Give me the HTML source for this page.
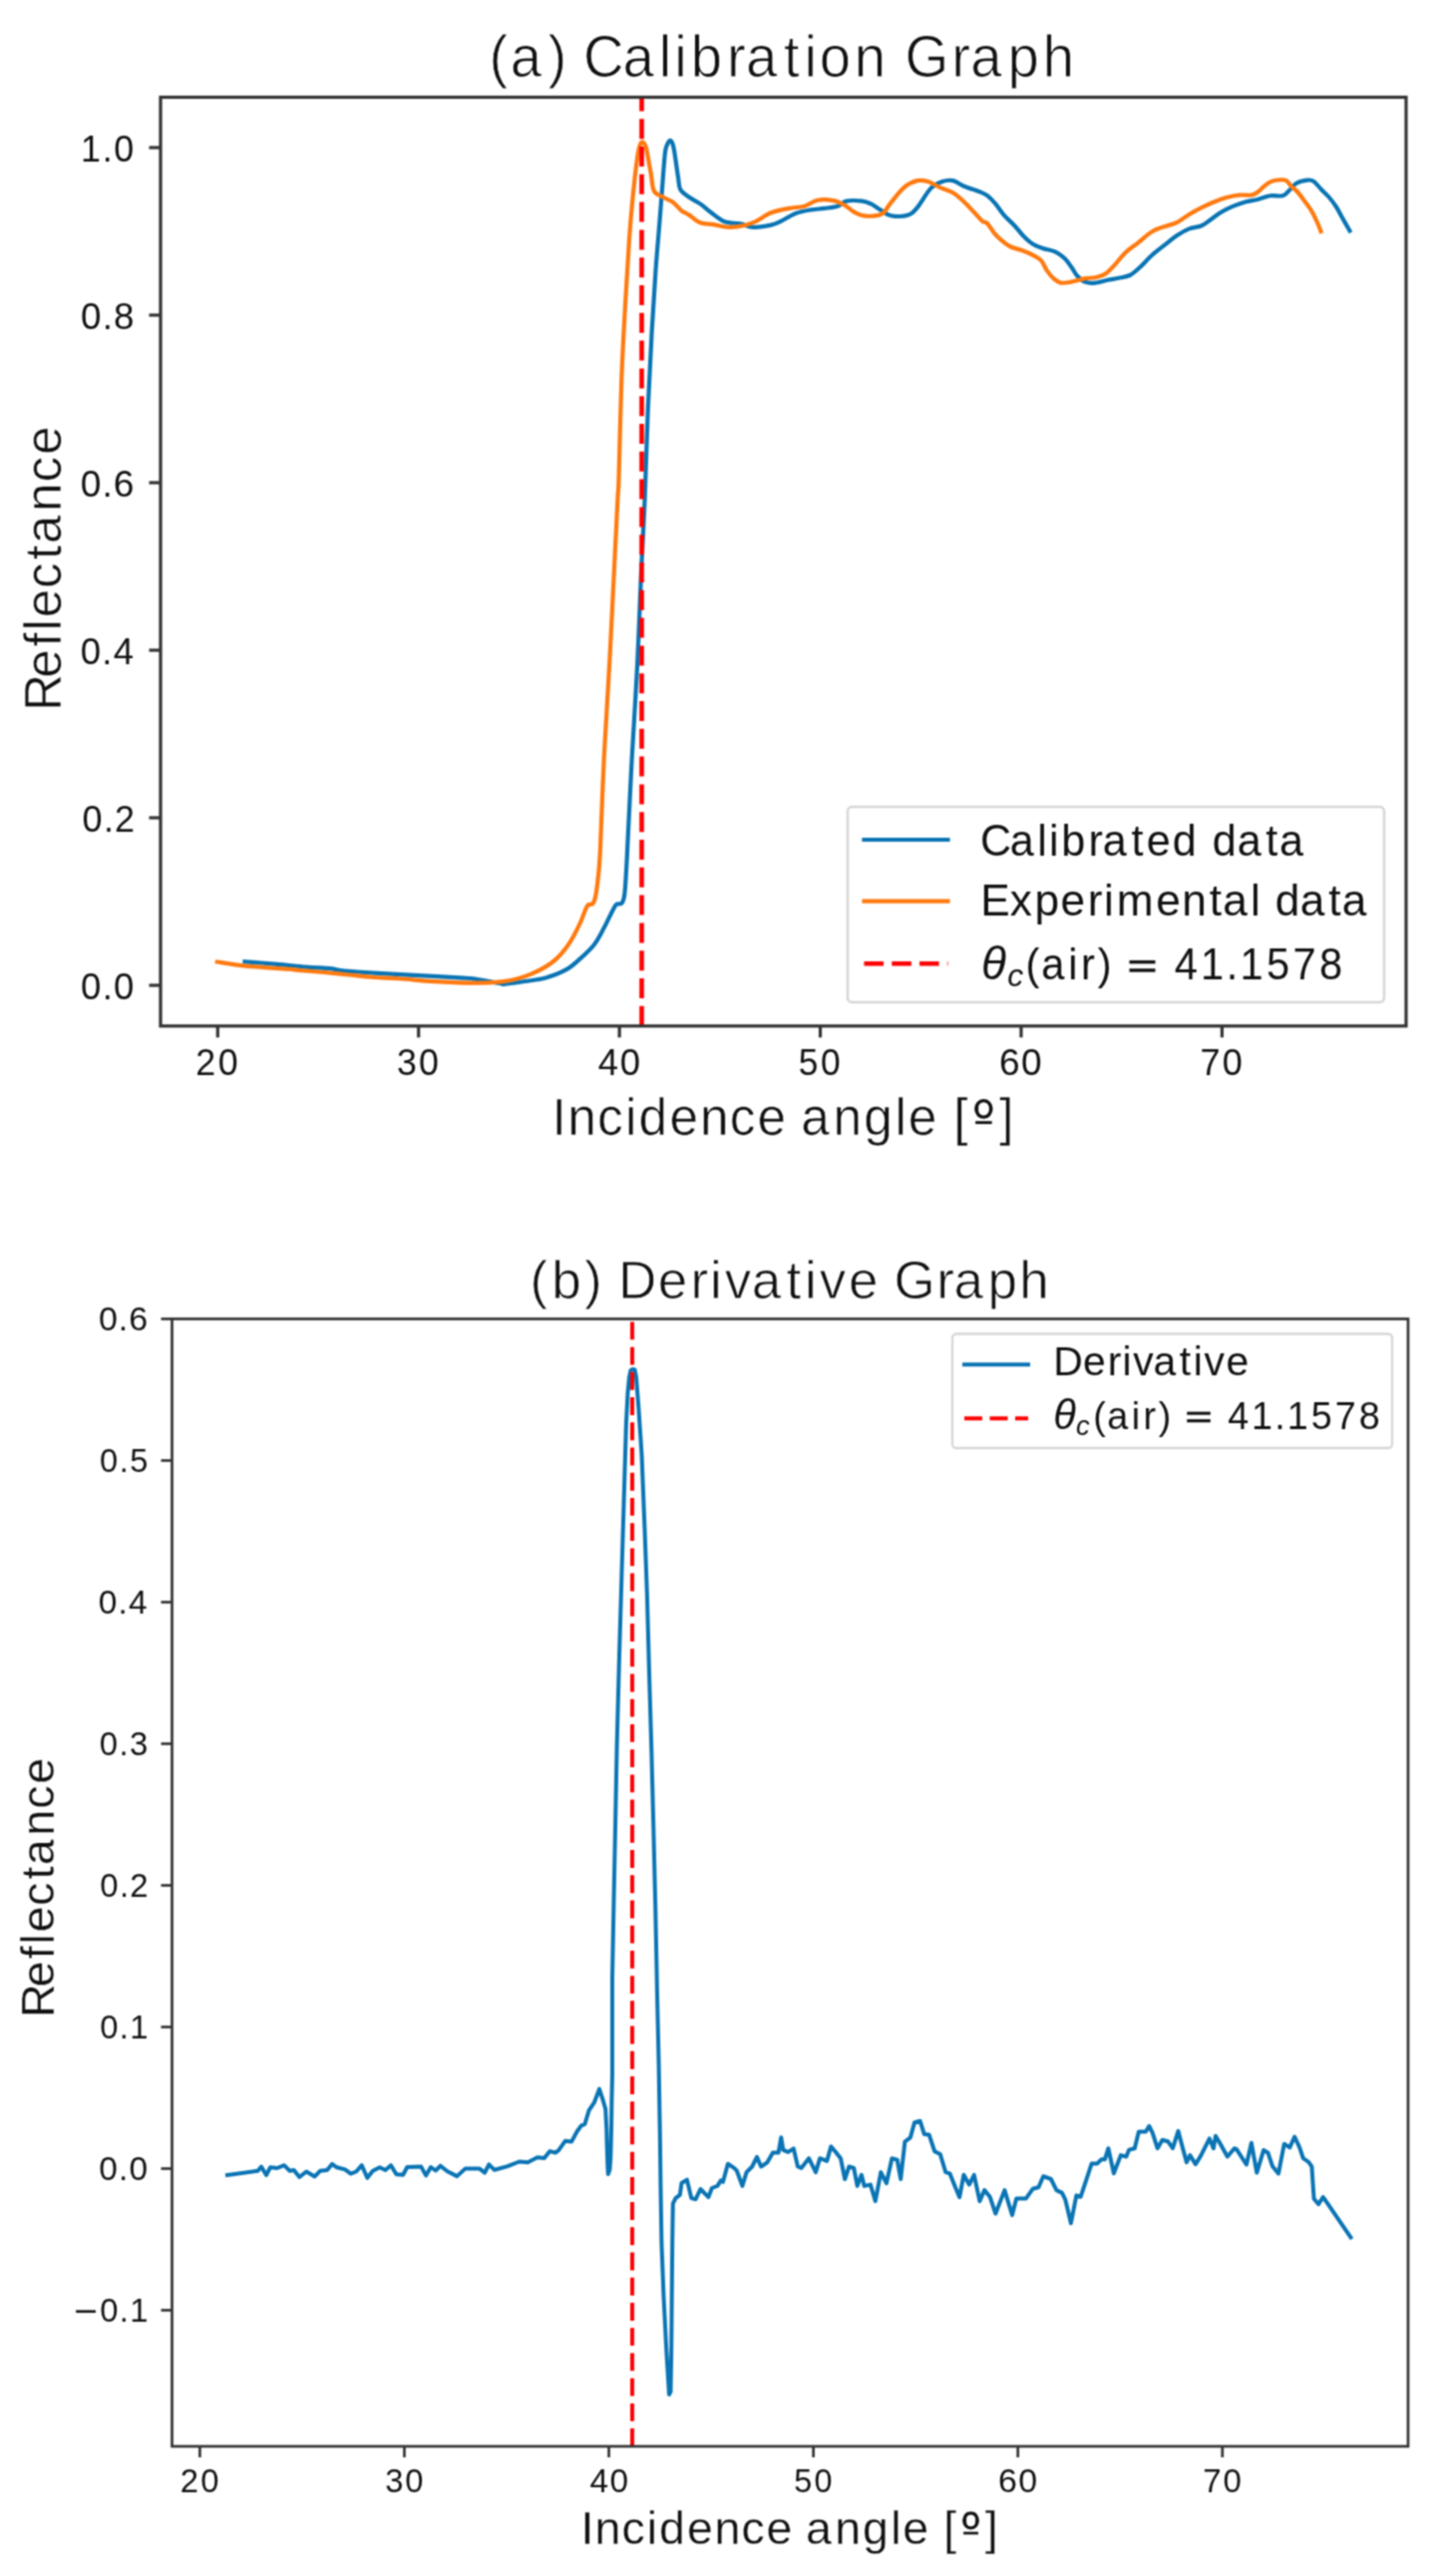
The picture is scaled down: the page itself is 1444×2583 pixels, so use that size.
<!DOCTYPE html><html><head><meta charset="utf-8"><title>Calibration and Derivative Graphs</title><style>html,body{margin:0;padding:0;background:#fff;overflow:hidden;}svg{display:block;}text{font-family:"Liberation Sans", sans-serif;fill:#111111;font-kerning:none;font-variant-ligatures:none;white-space:pre;}</style></head><body>
<svg width="1444" height="2583" viewBox="0 0 1444 2583">
<rect width="1444" height="2583" fill="#fff"/>
<defs><filter id="bl" filterUnits="userSpaceOnUse" x="0" y="0" width="1444" height="2583" color-interpolation-filters="sRGB"><feConvolveMatrix order="3" kernelMatrix="1 2 1 2 4 2 1 2 1" edgeMode="duplicate"/></filter></defs>
<g filter="url(#bl)">
<rect width="1444" height="2583" fill="#fff"/>
<clipPath id="ca"><rect x="161.0" y="97.5" width="1249.0" height="931.3"/></clipPath>
<g clip-path="url(#ca)">
<path d="M245.50,964.30C250.92,964.72 267.72,965.92 278.00,966.80C288.28,967.68 298.28,968.87 307.20,969.60C316.12,970.33 325.75,970.60 331.50,971.20C337.25,971.80 337.23,972.65 341.70,973.20C346.17,973.75 351.37,974.00 358.30,974.50C365.23,975.00 373.02,975.58 383.30,976.20C393.58,976.82 406.38,977.47 420.00,978.20C433.62,978.93 455.42,979.98 465.00,980.60C474.58,981.22 471.25,980.96 477.50,981.90C483.75,982.84 497.82,985.43 502.50,986.25C507.18,987.07 501.62,987.17 505.60,986.80C509.58,986.42 519.47,985.05 526.40,984.00C533.33,982.95 540.27,982.47 547.20,980.50C554.13,978.53 562.20,975.43 568.00,972.20C573.80,968.97 577.37,965.27 582.00,961.10C586.63,956.93 591.87,952.28 595.80,947.20C599.73,942.12 602.82,935.68 605.60,930.60C608.38,925.52 610.43,920.63 612.50,916.70C614.57,912.77 616.15,908.85 618.00,907.00C619.85,905.15 622.20,907.47 623.60,905.60C625.00,903.73 625.58,902.75 626.40,895.80C627.22,888.85 627.93,873.70 628.50,863.90C629.07,854.10 628.93,854.40 629.80,837.00C630.67,819.60 632.15,787.95 633.70,759.50C635.25,731.05 637.55,697.38 639.10,666.30C640.65,635.22 641.75,600.72 643.00,573.00C644.25,545.28 645.48,527.07 646.60,500.00C647.72,472.93 648.53,438.45 649.70,410.60C650.87,382.75 652.30,356.20 653.60,332.90C654.90,309.60 656.22,288.92 657.50,270.80C658.78,252.68 660.27,237.13 661.30,224.20C662.33,211.27 662.78,204.85 663.70,193.20C664.62,181.55 665.90,162.33 666.80,154.30C667.70,146.27 668.28,147.22 669.10,145.00C669.92,142.78 670.85,141.25 671.70,141.00C672.55,140.75 673.47,141.80 674.20,143.50C674.93,145.20 675.13,145.52 676.10,151.20C677.07,156.88 678.97,171.13 680.00,177.60C681.03,184.07 680.45,186.63 682.30,190.00C684.15,193.37 687.78,195.40 691.10,197.80C694.42,200.20 698.50,201.82 702.20,204.40C705.90,206.98 709.22,210.33 713.30,213.30C717.38,216.27 721.88,220.35 726.70,222.20C731.52,224.05 737.38,223.47 742.20,224.40C747.02,225.33 750.42,227.60 755.60,227.80C760.78,228.00 768.50,226.72 773.30,225.60C778.10,224.48 780.32,223.03 784.40,221.10C788.48,219.17 792.98,215.78 797.80,214.00C802.62,212.22 808.48,211.25 813.30,210.40C818.12,209.55 822.25,209.52 826.70,208.90C831.15,208.28 836.30,207.92 840.00,206.70C843.70,205.48 844.83,202.45 848.90,201.60C852.97,200.75 860.33,201.13 864.40,201.60C868.47,202.07 870.33,203.00 873.30,204.40C876.27,205.80 878.87,208.03 882.20,210.00C885.53,211.97 888.48,215.27 893.30,216.20C898.12,217.13 906.65,217.00 911.10,215.60C915.55,214.20 916.30,212.25 920.00,207.80C923.70,203.35 929.23,193.17 933.30,188.90C937.37,184.63 940.68,183.50 944.40,182.20C948.12,180.90 951.88,180.35 955.60,181.10C959.32,181.85 962.27,184.85 966.70,186.70C971.13,188.55 978.32,190.63 982.20,192.20C986.08,193.77 987.32,194.07 990.00,196.10C992.68,198.13 995.52,201.15 998.30,204.40C1001.08,207.65 1003.45,211.88 1006.70,215.60C1009.95,219.32 1014.57,223.23 1017.80,226.70C1021.03,230.17 1023.10,233.40 1026.10,236.40C1029.10,239.40 1032.55,242.62 1035.80,244.70C1039.05,246.78 1041.90,247.62 1045.60,248.90C1049.30,250.18 1054.30,250.67 1058.00,252.40C1061.70,254.13 1065.02,256.65 1067.80,259.30C1070.58,261.95 1072.62,265.40 1074.70,268.30C1076.78,271.20 1077.98,274.27 1080.30,276.70C1082.62,279.13 1085.60,281.75 1088.60,282.90C1091.60,284.05 1094.60,283.95 1098.30,283.60C1102.00,283.25 1106.87,281.60 1110.80,280.80C1114.73,280.00 1118.20,279.60 1121.90,278.80C1125.60,278.00 1129.52,277.75 1133.00,276.00C1136.48,274.25 1139.08,271.67 1142.80,268.30C1146.52,264.93 1150.90,259.73 1155.30,255.80C1159.70,251.87 1165.08,247.96 1169.20,244.70C1173.32,241.44 1176.12,238.80 1180.00,236.25C1183.88,233.70 1188.33,231.07 1192.50,229.40C1196.67,227.73 1201.25,227.92 1205.00,226.25C1208.75,224.58 1211.67,221.69 1215.00,219.40C1218.33,217.11 1221.46,214.58 1225.00,212.50C1228.54,210.42 1232.29,208.57 1236.25,206.90C1240.21,205.23 1244.58,203.65 1248.75,202.50C1252.92,201.35 1257.08,201.04 1261.25,200.00C1265.42,198.96 1269.58,196.88 1273.75,196.25C1277.92,195.62 1283.12,197.08 1286.25,196.25C1289.38,195.42 1290.21,193.33 1292.50,191.25C1294.79,189.17 1296.88,185.53 1300.00,183.75C1303.12,181.97 1308.33,180.91 1311.25,180.60C1314.17,180.29 1315.21,180.33 1317.50,181.90C1319.79,183.47 1322.50,187.40 1325.00,190.00C1327.50,192.60 1330.00,194.58 1332.50,197.50C1335.00,200.42 1337.71,203.96 1340.00,207.50C1342.29,211.04 1344.00,214.75 1346.25,218.75C1348.50,222.75 1352.29,229.38 1353.50,231.50" fill="none" stroke="#0a74b4" stroke-width="4.20" stroke-linejoin="round" stroke-linecap="square"/>
<path d="M217.80,964.50C222.98,965.22 237.23,967.60 248.90,968.80C260.57,970.00 279.28,971.02 287.80,971.70C296.32,972.38 293.80,972.35 300.00,972.90C306.20,973.45 316.67,974.23 325.00,975.00C333.33,975.77 341.67,976.67 350.00,977.50C358.33,978.33 366.67,979.38 375.00,980.00C383.33,980.62 389.17,980.52 400.00,981.25C410.83,981.98 427.08,983.67 440.00,984.40C452.92,985.12 467.03,985.60 477.50,985.60C487.97,985.60 495.82,985.12 502.80,984.40C509.78,983.68 514.32,982.63 519.40,981.30C524.48,979.97 528.67,978.38 533.30,976.40C537.93,974.42 543.03,971.95 547.20,969.40C551.37,966.85 554.83,964.33 558.30,961.10C561.77,957.87 565.22,953.70 568.00,950.00C570.78,946.30 572.67,943.07 575.00,938.90C577.33,934.73 579.92,929.63 582.00,925.00C584.08,920.37 586.12,914.10 587.50,911.10C588.88,908.10 589.15,907.81 590.30,907.00C591.45,906.19 593.25,907.65 594.40,906.25C595.55,904.85 596.27,903.34 597.20,898.60C598.13,893.86 599.20,885.90 600.00,877.80C600.80,869.70 601.05,869.72 602.00,850.00C602.95,830.28 604.18,790.12 605.70,759.50C607.22,728.88 609.42,697.38 611.10,666.30C612.78,635.22 614.42,600.72 615.80,573.00C617.18,545.28 618.62,515.50 619.40,500.00C620.18,484.50 619.85,500.08 620.50,480.00C621.15,459.92 622.18,409.18 623.30,379.50C624.42,349.82 625.92,325.18 627.20,301.90C628.48,278.62 629.70,257.92 631.00,239.80C632.30,221.68 633.70,206.50 635.00,193.20C636.30,179.90 637.80,167.53 638.80,160.00C639.80,152.47 640.22,150.92 641.00,148.00C641.78,145.08 642.67,143.17 643.50,142.50C644.33,141.83 645.23,142.92 646.00,144.00C646.77,145.08 646.97,143.92 648.10,149.00C649.23,154.08 651.50,167.40 652.80,174.50C654.10,181.60 653.83,187.72 655.90,191.60C657.97,195.48 662.10,195.98 665.20,197.80C668.30,199.62 672.03,200.83 674.50,202.50C676.97,204.17 678.43,206.25 680.00,207.80C681.57,209.35 682.05,210.50 683.90,211.80C685.75,213.10 688.05,213.68 691.10,215.60C694.15,217.52 698.12,221.72 702.20,223.30C706.28,224.88 710.78,224.35 715.60,225.10C720.42,225.85 725.92,227.65 731.10,227.80C736.28,227.95 742.25,226.93 746.70,226.00C751.15,225.07 753.37,224.32 757.80,222.20C762.23,220.08 767.75,215.52 773.30,213.30C778.85,211.08 785.53,210.00 791.10,208.90C796.67,207.80 801.88,208.07 806.70,206.70C811.52,205.33 815.18,201.63 820.00,200.70C824.82,199.77 831.15,200.28 835.60,201.10C840.05,201.92 843.00,203.57 846.70,205.60C850.40,207.63 854.10,211.45 857.80,213.30C861.50,215.15 864.47,216.52 868.90,216.70C873.33,216.88 880.33,216.63 884.40,214.40C888.47,212.17 889.58,207.73 893.30,203.30C897.02,198.87 902.25,191.50 906.70,187.80C911.15,184.10 915.93,182.03 920.00,181.10C924.07,180.17 927.40,181.08 931.10,182.20C934.80,183.32 938.12,185.95 942.20,187.80C946.28,189.65 951.15,190.53 955.60,193.30C960.05,196.07 964.10,199.77 968.90,204.40C973.70,209.03 980.88,217.85 984.40,221.10C987.92,224.35 987.92,221.82 990.00,223.90C992.08,225.98 994.58,230.82 996.90,233.60C999.22,236.38 1001.12,238.28 1003.90,240.60C1006.68,242.92 1010.13,245.77 1013.60,247.50C1017.07,249.23 1021.00,249.62 1024.70,251.00C1028.40,252.38 1032.55,254.07 1035.80,255.80C1039.05,257.53 1041.88,258.85 1044.20,261.40C1046.52,263.95 1047.62,268.10 1049.70,271.10C1051.78,274.10 1054.38,277.32 1056.70,279.40C1059.02,281.48 1060.83,283.02 1063.60,283.60C1066.37,284.18 1069.37,283.60 1073.30,282.90C1077.23,282.20 1082.80,280.22 1087.20,279.40C1091.60,278.58 1096.00,278.92 1099.70,278.00C1103.40,277.08 1106.38,275.97 1109.40,273.90C1112.42,271.83 1114.55,269.08 1117.80,265.60C1121.05,262.12 1124.97,256.72 1128.90,253.00C1132.83,249.28 1137.00,246.77 1141.40,243.30C1145.80,239.83 1150.67,234.97 1155.30,232.20C1159.93,229.43 1165.08,228.20 1169.20,226.70C1173.32,225.20 1176.12,225.15 1180.00,223.20C1183.88,221.25 1188.33,217.52 1192.50,215.00C1196.67,212.48 1200.83,210.18 1205.00,208.10C1209.17,206.02 1213.33,204.17 1217.50,202.50C1221.67,200.83 1225.83,199.25 1230.00,198.10C1234.17,196.95 1238.33,196.02 1242.50,195.60C1246.67,195.18 1251.88,196.12 1255.00,195.60C1258.12,195.08 1259.17,193.95 1261.25,192.50C1263.33,191.05 1265.21,188.67 1267.50,186.90C1269.79,185.13 1272.08,183.01 1275.00,181.90C1277.92,180.79 1282.50,180.36 1285.00,180.25C1287.50,180.14 1288.33,180.14 1290.00,181.25C1291.67,182.36 1293.12,185.03 1295.00,186.90C1296.88,188.78 1298.96,189.90 1301.25,192.50C1303.54,195.10 1306.46,199.38 1308.75,202.50C1311.04,205.62 1312.92,207.71 1315.00,211.25C1317.08,214.79 1319.67,220.29 1321.25,223.75C1322.83,227.21 1323.96,230.62 1324.50,232.00" fill="none" stroke="#ff7a10" stroke-width="4.20" stroke-linejoin="round" stroke-linecap="square"/>
<line x1="643.50" y1="1028.80" x2="643.50" y2="97.50" stroke="#ff0000" stroke-width="4.60" stroke-dasharray="20,7.8"/>
</g>
<line x1="149.50" y1="988.00" x2="161.00" y2="988.00" stroke="#333333" stroke-width="3.20"/>
<line x1="149.50" y1="820.00" x2="161.00" y2="820.00" stroke="#333333" stroke-width="3.20"/>
<line x1="149.50" y1="652.00" x2="161.00" y2="652.00" stroke="#333333" stroke-width="3.20"/>
<line x1="149.50" y1="484.00" x2="161.00" y2="484.00" stroke="#333333" stroke-width="3.20"/>
<line x1="149.50" y1="316.00" x2="161.00" y2="316.00" stroke="#333333" stroke-width="3.20"/>
<line x1="149.50" y1="148.00" x2="161.00" y2="148.00" stroke="#333333" stroke-width="3.20"/>
<line x1="218.30" y1="1028.80" x2="218.30" y2="1040.30" stroke="#333333" stroke-width="3.20"/>
<line x1="419.72" y1="1028.80" x2="419.72" y2="1040.30" stroke="#333333" stroke-width="3.20"/>
<line x1="621.14" y1="1028.80" x2="621.14" y2="1040.30" stroke="#333333" stroke-width="3.20"/>
<line x1="822.56" y1="1028.80" x2="822.56" y2="1040.30" stroke="#333333" stroke-width="3.20"/>
<line x1="1023.98" y1="1028.80" x2="1023.98" y2="1040.30" stroke="#333333" stroke-width="3.20"/>
<line x1="1225.40" y1="1028.80" x2="1225.40" y2="1040.30" stroke="#333333" stroke-width="3.20"/>
<rect x="161.00" y="97.50" width="1249.00" height="931.30" fill="none" stroke="#333333" stroke-width="3.20"/>
<text x="80.59 102.04 113.4" y="1001.71" font-size="36.33" transform="scale(1.0063,1)">0.0</text>
<text x="83.23 104.95 116.11" y="833.71" font-size="36.33" transform="scale(0.9903,1)">0.2</text>
<text x="80.24 101.69 113.04" y="665.71" font-size="36.33" transform="scale(1.0063,1)">0.4</text>
<text x="79.08 100.28 111.38" y="497.71" font-size="36.33" transform="scale(1.0220,1)">0.6</text>
<text x="80.22 101.59 112.86" y="329.71" font-size="36.33" transform="scale(1.0113,1)">0.8</text>
<text x="82.18 104.13 115.8" y="161.71" font-size="36.33" transform="scale(0.9871,1)">1.0</text>
<text x="198.98 221.77" y="1078.4" font-size="36.33" transform="scale(0.9863,1)">20</text>
<text x="404.56 426.88" y="1078.4" font-size="36.33" transform="scale(0.9841,1)">30</text>
<text x="597.39 619.32" y="1078.4" font-size="36.33" transform="scale(1.0040,1)">40</text>
<text x="820.71 843.4" y="1078.4" font-size="36.33" transform="scale(0.9758,1)">50</text>
<text x="981.3 1002.86" y="1078.4" font-size="36.33" transform="scale(1.0212,1)">60</text>
<text x="1211.67 1233.9" y="1078.4" font-size="36.33" transform="scale(0.9933,1)">70</text>
<rect x="850.00" y="809.00" width="538.00" height="196.00" rx="4.5" fill="#fff" fill-opacity="0.8" stroke="#d6d6d6" stroke-width="2.50"/>
<line x1="866.50" y1="842.00" x2="950.50" y2="842.00" stroke="#0a74b4" stroke-width="4.20" stroke-linecap="square"/>
<line x1="866.50" y1="903.60" x2="950.50" y2="903.60" stroke="#ff7a10" stroke-width="4.20" stroke-linecap="square"/>
<line x1="866.50" y1="966.30" x2="950.50" y2="966.30" stroke="#ff0000" stroke-width="4.60" stroke-dasharray="19.5,8.3"/>
<text x="1004.65 1035.12 1063.22 1075.18 1087.67 1115.63 1130.25 1159.47 1175.16 1201.66 1227.84 1242.59 1268.06 1297.28 1311.23" y="858" font-size="44.14" transform="scale(0.9784,1)">Calibrated data</text>
<text x="978.55 1007.83 1032.56 1058.48 1085.54 1101.59 1114.36 1153.61 1179.7 1207.05 1220.43 1247.96 1258.65 1272.68 1297.4 1325.98 1339.36" y="918.4" font-size="44.05" transform="scale(1.0048,1)">Experimental data</text>
<text x="997" y="981.8" font-size="46.54" font-style="italic" transform="scale(0.9869,1)">&#952;</text>
<text x="986.76" y="989" font-size="31.16" font-style="italic" transform="scale(1.0238,1)">c</text>
<text x="1074.39 1090.78 1119 1132.39 1149.98 1164.61 1214.75 1230.19 1257.6 1284.56 1298.99 1326.63 1354.31 1382" y="981.8" font-size="43.61" transform="scale(0.9573,1)">(air)  41.1578</text>
<rect x="1132.50" y="971.21" width="26.00" height="3.45" fill="#111111"/>
<rect x="1132.50" y="962.94" width="26.00" height="3.41" fill="#111111"/>
<text x="510.81 532.77 572.09 591.73 609.02 650.19 688.02 704.21 721.31 759.06 778.97 818.34 839.63 855.69 892.02 926.63 944.81 993.55 1013.46 1052.27 1088.81" y="77" font-size="58.65" transform="scale(0.9604,1)" stroke="#fff" stroke-width="0.90" stroke-linejoin="round">(a) Calibration Graph</text>
<text x="552.99 568.66 598.36 626.35 639.76 670.72 701.27 730.98 758.7 787.95 802.34 834.78 865.4 896.6 909.95 939.2 955.24 975.92 1001.18" y="1138.3" font-size="51.41" transform="scale(1.0010,1)" stroke="#fff" stroke-width="0.60" stroke-linejoin="round">Incidence angle [&#186;]</text>
<ellipse cx="986.36" cy="1111.79" rx="7.61" ry="8.21" fill="none" stroke="#111111" stroke-width="3.24"/>
<rect x="978.16" y="1124.15" width="16.45" height="2.94" fill="#111111"/>
<text x="-5.61 27.54 58.62 74.69 87.89 116.89 145.85 161.38 193.53 222.97 250.45" y="0" font-size="51.14" transform="translate(60.5,707.5) rotate(-90) scale(1.0047,1)" stroke="#fff" stroke-width="0.60" stroke-linejoin="round">Reflectance</text>
<clipPath id="cb"><rect x="172.5" y="1322.5" width="1239.5" height="1130.5"/></clipPath>
<g clip-path="url(#cb)">
<polyline points="228.0,2181.0 258.6,2176.8 262.0,2172.6 267.0,2181.0 271.0,2173.3 278.0,2174.0 285.0,2171.2 290.6,2176.8 294.7,2176.0 300.3,2183.0 307.2,2177.5 315.6,2182.4 321.0,2176.8 328.0,2176.0 333.0,2169.9 337.8,2173.3 346.0,2175.4 351.7,2179.6 357.2,2177.5 362.8,2171.2 368.3,2183.8 373.9,2176.8 380.8,2173.3 386.4,2176.0 392.0,2171.2 397.5,2180.3 404.2,2180.7 408.3,2173.0 422.2,2172.4 427.1,2181.4 432.0,2173.0 436.8,2176.5 441.7,2171.7 448.6,2177.2 458.3,2182.1 466.7,2174.4 480.6,2174.4 486.1,2178.6 490.3,2170.3 495.8,2175.8 508.3,2172.4 520.8,2167.5 529.2,2168.2 538.9,2163.3 545.8,2164.0 551.4,2157.1 556.9,2158.5 560.0,2156.4 566.9,2146.7 573.2,2147.4 578.8,2137.0 582.9,2131.4 586.4,2130.0 590.6,2116.1 596.1,2107.8 601.0,2094.6 603.0,2100.8 604.4,2105.0 607.2,2114.7 608.3,2135.6 608.6,2149.4 609.3,2170.3 609.8,2180.0 611.4,2175.8 612.3,2163.3 613.0,2135.6 613.4,2107.8 614.0,2080.0 614.0,1983.0 615.5,1905.3 617.1,1827.7 618.6,1750.0 621.0,1660.4 623.3,1582.8 625.6,1505.2 627.9,1427.6 629.5,1396.6 631.0,1381.0 632.5,1374.0 634.5,1373.0 636.5,1373.5 638.0,1381.0 640.4,1412.0 643.5,1458.6 646.6,1536.2 648.9,1600.0 651.0,1677.6 653.3,1755.3 655.3,1832.9 657.2,1910.6 659.0,2000.0 660.6,2070.0 661.8,2140.0 662.5,2194.3 663.4,2248.7 665.5,2303.0 668.3,2357.4 671.0,2401.0 672.5,2398.0 673.2,2357.4 673.7,2303.0 674.2,2248.7 674.8,2209.6 677.5,2204.1 681.8,2200.9 683.5,2189.0 688.9,2185.7 693.3,2204.1 697.6,2205.2 702.4,2195.0 710.4,2203.1 713.9,2194.0 719.4,2191.9 722.9,2186.4 725.0,2187.8 729.9,2169.7 736.1,2173.9 738.9,2176.7 744.4,2191.9 748.6,2178.1 754.2,2172.5 759.0,2162.8 763.2,2172.5 769.4,2168.3 775.0,2158.6 780.6,2158.6 783.3,2143.3 785.4,2155.8 790.3,2157.9 795.8,2154.4 800.0,2172.5 803.5,2173.9 811.1,2164.2 818.0,2178.1 822.2,2164.2 829.2,2166.9 833.3,2152.4 837.5,2157.2 843.0,2164.2 847.2,2185.0 851.4,2172.5 856.2,2173.9 859.7,2191.9 863.9,2180.8 866.7,2191.9 872.9,2190.6 877.8,2207.2 883.3,2178.1 888.9,2189.2 894.4,2164.2 899.7,2165.6 903.2,2185.0 907.4,2147.5 912.9,2143.3 917.1,2128.1 922.6,2126.7 926.8,2139.9 931.7,2140.6 937.2,2157.2 942.8,2160.0 948.3,2178.1 952.5,2179.4 958.0,2193.3 962.2,2203.1 966.4,2180.8 971.9,2190.6 976.8,2180.8 982.4,2207.2 987.2,2196.1 992.8,2203.1 998.3,2219.7 1007.4,2196.1 1015.0,2221.1 1019.2,2204.4 1028.9,2204.4 1035.8,2194.7 1041.4,2193.3 1046.2,2182.2 1053.9,2185.0 1059.4,2196.1 1065.0,2198.9 1068.3,2205.6 1073.9,2229.2 1079.4,2201.4 1083.6,2202.8 1087.8,2190.3 1094.7,2169.4 1100.3,2169.4 1104.4,2165.3 1107.9,2165.3 1111.4,2154.2 1116.9,2179.2 1123.9,2161.1 1129.4,2162.5 1132.2,2155.6 1137.8,2154.2 1141.9,2137.5 1148.9,2137.5 1152.4,2131.9 1155.8,2138.9 1160.7,2154.2 1165.6,2145.8 1171.1,2147.2 1176.0,2154.2 1181.5,2136.8 1185.7,2152.8 1189.9,2168.1 1193.3,2161.1 1198.9,2170.1 1204.4,2161.1 1212.8,2144.4 1216.9,2154.2 1219.0,2141.7 1223.9,2150.0 1230.8,2162.5 1237.8,2154.2 1240.0,2155.1 1249.9,2170.5 1254.9,2148.8 1260.3,2178.6 1267.1,2156.0 1271.6,2158.8 1276.1,2172.3 1282.0,2179.5 1287.8,2149.7 1293.3,2153.3 1298.2,2142.5 1303.2,2153.3 1306.8,2164.2 1312.2,2167.8 1315.4,2172.3 1317.6,2204.8 1322.2,2210.2 1326.7,2203.0 1331.2,2209.3 1354.5,2243.5" fill="none" stroke="#0a74b4" stroke-width="4.00" stroke-linejoin="round" stroke-linecap="square"/>
<line x1="634.00" y1="2453.00" x2="634.00" y2="1322.50" stroke="#ff0000" stroke-width="4.00" stroke-dasharray="17.9,7.32"/>
</g>
<line x1="161.50" y1="2316.50" x2="172.50" y2="2316.50" stroke="#333333" stroke-width="2.70"/>
<line x1="161.50" y1="2174.50" x2="172.50" y2="2174.50" stroke="#333333" stroke-width="2.70"/>
<line x1="161.50" y1="2032.50" x2="172.50" y2="2032.50" stroke="#333333" stroke-width="2.70"/>
<line x1="161.50" y1="1890.50" x2="172.50" y2="1890.50" stroke="#333333" stroke-width="2.70"/>
<line x1="161.50" y1="1748.50" x2="172.50" y2="1748.50" stroke="#333333" stroke-width="2.70"/>
<line x1="161.50" y1="1606.50" x2="172.50" y2="1606.50" stroke="#333333" stroke-width="2.70"/>
<line x1="161.50" y1="1464.50" x2="172.50" y2="1464.50" stroke="#333333" stroke-width="2.70"/>
<line x1="161.50" y1="1322.50" x2="172.50" y2="1322.50" stroke="#333333" stroke-width="2.70"/>
<line x1="200.40" y1="2453.00" x2="200.40" y2="2464.00" stroke="#333333" stroke-width="2.70"/>
<line x1="405.48" y1="2453.00" x2="405.48" y2="2464.00" stroke="#333333" stroke-width="2.70"/>
<line x1="610.56" y1="2453.00" x2="610.56" y2="2464.00" stroke="#333333" stroke-width="2.70"/>
<line x1="815.64" y1="2453.00" x2="815.64" y2="2464.00" stroke="#333333" stroke-width="2.70"/>
<line x1="1020.72" y1="2453.00" x2="1020.72" y2="2464.00" stroke="#333333" stroke-width="2.70"/>
<line x1="1225.80" y1="2453.00" x2="1225.80" y2="2464.00" stroke="#333333" stroke-width="2.70"/>
<rect x="172.50" y="1322.50" width="1239.50" height="1130.50" fill="none" stroke="#333333" stroke-width="2.70"/>
<text x="101.46 121.4 131.94" y="2327.96" font-size="33.29" transform="scale(0.9871,1)">0.1</text>
<text transform="matrix(1.2271,0,0,1.1089,74.00,2330.29)" x="0" y="0" font-size="33.29">&#8722;</text>
<text x="98.53 118.18 128.58" y="2185.96" font-size="33.29" transform="scale(1.0063,1)">0.0</text>
<text x="101.46 121.4 131.94" y="2043.96" font-size="33.29" transform="scale(0.9871,1)">0.1</text>
<text x="101.35 121.24 131.47" y="1901.96" font-size="33.29" transform="scale(0.9903,1)">0.2</text>
<text x="100.93 120.85 131.57" y="1759.96" font-size="33.29" transform="scale(0.9883,1)">0.3</text>
<text x="98.21 117.86 128.26" y="1617.96" font-size="33.29" transform="scale(1.0063,1)">0.4</text>
<text x="102.01 122.06 132.73" y="1475.96" font-size="33.29" transform="scale(0.9808,1)">0.5</text>
<text x="96.77 116.19 126.36" y="1333.96" font-size="33.29" transform="scale(1.0220,1)">0.6</text>
<text x="183.17 204.04" y="2498.9" font-size="33.29" transform="scale(0.9863,1)">20</text>
<text x="392.39 412.85" y="2498.9" font-size="33.29" transform="scale(0.9841,1)">30</text>
<text x="589.09 609.18" y="2498.9" font-size="33.29" transform="scale(1.0040,1)">40</text>
<text x="815.95 836.74" y="2498.9" font-size="33.29" transform="scale(0.9758,1)">50</text>
<text x="980.35 1000.1" y="2498.9" font-size="33.29" transform="scale(1.0212,1)">60</text>
<text x="1214.38 1234.75" y="2498.9" font-size="33.29" transform="scale(0.9933,1)">70</text>
<rect x="955.00" y="1337.50" width="441.00" height="114.50" rx="4.0" fill="#fff" fill-opacity="0.8" stroke="#d6d6d6" stroke-width="2.30"/>
<line x1="967.00" y1="1368.30" x2="1031.00" y2="1368.30" stroke="#0a74b4" stroke-width="4.00" stroke-linecap="square"/>
<line x1="967.00" y1="1422.20" x2="1031.00" y2="1422.20" stroke="#ff0000" stroke-width="4.00" stroke-dasharray="18,7.5"/>
<text x="1030.72 1059.77 1083.88 1098.21 1108.78 1128.59 1154.1 1167.76 1178.33 1199.68" y="1379.5" font-size="39.93" transform="scale(1.0248,1)">Derivative</text>
<text x="1070.22" y="1432.7" font-size="42.25" font-style="italic" transform="scale(0.9869,1)">&#952;</text>
<text x="1053.96" y="1439.2" font-size="26.77" font-style="italic" transform="scale(1.0238,1)">c</text>
<text x="1145.04 1159.87 1185.41 1197.53 1213.46 1226.69 1272.08 1286.05 1310.86 1335.26 1348.32 1373.34 1398.4 1423.46" y="1432.7" font-size="39.47" transform="scale(0.9573,1)">(air)  41.1578</text>
<rect x="1190.26" y="1423.12" width="23.53" height="3.12" fill="#111111"/>
<rect x="1190.26" y="1415.63" width="23.53" height="3.08" fill="#111111"/>
<text x="533.63 555.47 588.56 606.03 622.7 662.44 695.43 714.98 729.71 757 791.8 810.52 825.25 854.62 885.01 900.23 943.3 960.55 994.58 1026.62" y="1302" font-size="53.29" transform="scale(0.9958,1)" stroke="#fff" stroke-width="0.80" stroke-linejoin="round">(b) Derivative Graph</text>
<text x="581.82 595.97 622.81 648.1 660.22 688.2 715.81 742.65 767.71 794.13 807.14 836.45 864.12 892.31 904.38 930.8 945.3 963.99 986.81" y="2551.5" font-size="46.46" transform="scale(1.0010,1)" stroke="#fff" stroke-width="0.30" stroke-linejoin="round">Incidence angle [&#186;]</text>
<ellipse cx="973.51" cy="2527.54" rx="6.88" ry="7.42" fill="none" stroke="#111111" stroke-width="2.93"/>
<rect x="966.10" y="2538.71" width="14.86" height="2.66" fill="#111111"/>
<text x="-5.11 25.07 53.37 68 80.02 106.43 132.79 146.94 176.21 203.02 228.03" y="0" font-size="46.56" transform="translate(54.3,2017.8) rotate(-90) scale(1.0047,1)" stroke="#fff" stroke-width="0.30" stroke-linejoin="round">Reflectance</text>
</g>
</svg></body></html>
